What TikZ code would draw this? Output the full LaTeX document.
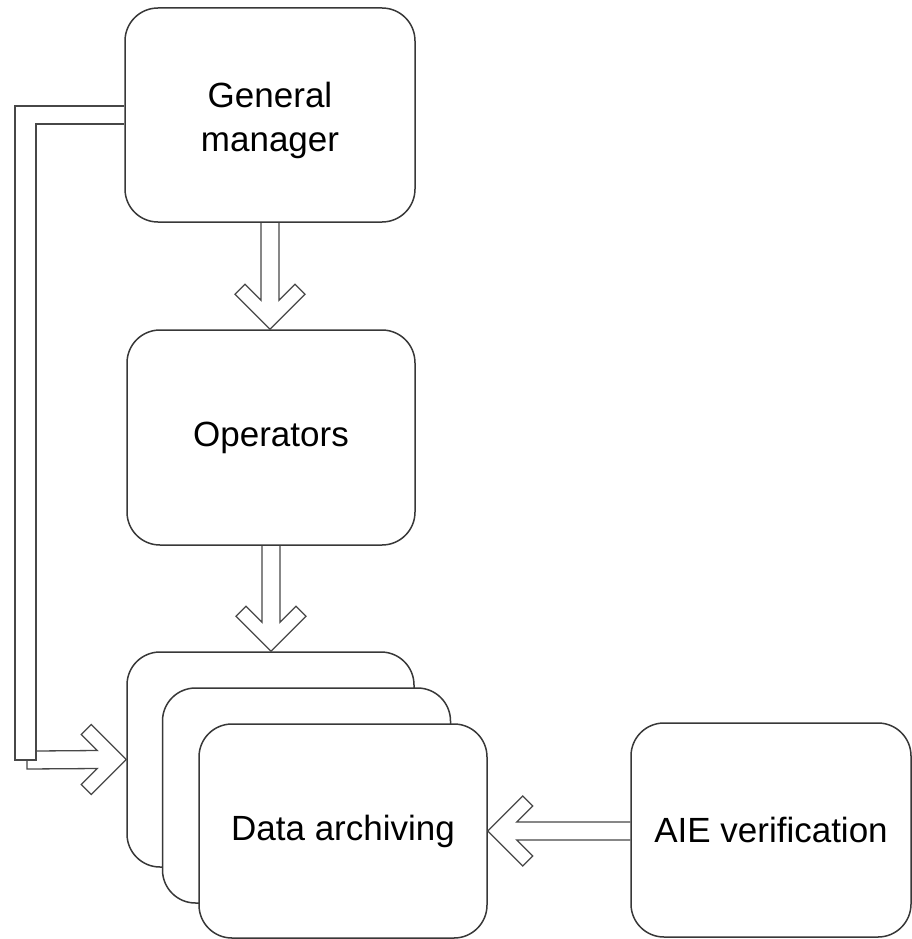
\documentclass[tikz,border=0pt]{standalone}
\usepackage{fontspec}
\setmainfont{Liberation Sans}
\usetikzlibrary{calc}

% hollow block arrow: shaft starts at #1, chevron head ends at #2
\newcommand\hollowarrow[2]{%
  \draw[flow] ($(#1)!9pt!-90:(#2)$)
    -- ($(#2)!30.36pt!17.24:(#1)$)
    -- ($(#2)!51.48pt!29.05:(#1)$)
    -- ($(#2)!49.50pt!45:(#1)$)
    -- (#2)
    -- ($(#2)!49.50pt!-45:(#1)$)
    -- ($(#2)!51.48pt!-29.05:(#1)$)
    -- ($(#2)!30.36pt!-17.24:(#1)$)
    -- ($(#1)!9pt!90:(#2)$);}

\begin{document}
\begin{tikzpicture}[x=1pt,y=-1pt,
  box/.style={draw=black!78, line width=1.5pt, rounded corners=33pt, fill=white,
    align=center, inner sep=0pt, font=\fontsize{35}{44}\selectfont},
  flow/.style={draw=black!72, line width=1.3pt, line join=miter}]
\useasboundingbox (0,0) rectangle (912,939);

\node[box, minimum width=290pt, minimum height=214pt,
  label={[align=center, font=\fontsize{35}{44}\selectfont, yshift=-5pt]center:General\\manager}]
  (gm) at (270,115) {};
\node[box, minimum width=288pt, minimum height=215pt] (op) at (271,437.5) {Operators};

\node[box, minimum width=287pt, minimum height=215pt] (dab) at (270.5,759.5) {};
\node[box, minimum width=288pt, minimum height=215pt] (dam) at (306.5,795.5) {};
\node[box, minimum width=288pt, minimum height=214pt] (daf) at (343,831) {Data archiving};

\node[box, minimum width=280pt, minimum height=214pt] (aie) at (771,830) {AIE verification};

% vertical flows
\hollowarrow{gm.south}{gm.south |- op.north}
\hollowarrow{op.south}{op.south |- dab.north}
% verification feeds the archive
\hollowarrow{aie.west |- daf.east}{daf.east}

% feedback line from the general manager down to the archive
\draw[flow] ($(gm.west)+(0,-9)$) -- (15,106) -- (15,760) -- (36,760) -- (36,124) -- ($(gm.west)+(0,9)$);
\draw[flow] (36,751) -- ($(dab.west)+(-29,-9)$)
  -- ($(dab.west)+(-45,-25)$) -- ($(dab.west)+(-35,-35)$)
  -- (dab.west)
  -- ($(dab.west)+(-35,35)$) -- ($(dab.west)+(-45,25)$)
  -- ($(dab.west)+(-29,9)$) -- (27,769) -- (27,760);
\end{tikzpicture}
\end{document}
